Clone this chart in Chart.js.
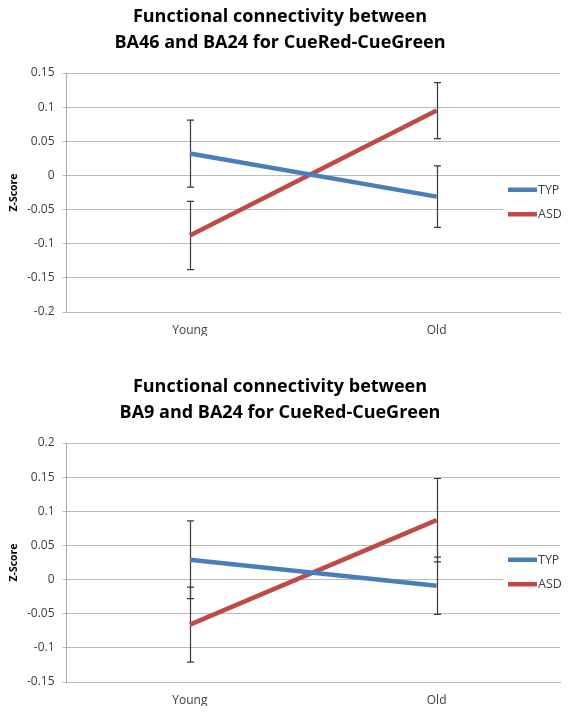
<!DOCTYPE html>
<html>
<head>
<meta charset="utf-8">
<script src="https://cdn.jsdelivr.net/npm/chart.js@4.4.1/dist/chart.umd.min.js"></script>
<style>
  body { margin: 0; background: #fff; }
  .panel { position: absolute; left: 0; }
</style>
</head>
<body>
<div class="panel" style="top:0"><canvas id="c1" width="570" height="350"></canvas></div>
<div class="panel" style="top:350px"><canvas id="c2" width="570" height="366"></canvas></div>
<script>
const groups = ['Young', 'Old'];
const seriesNames = ['TYP', 'ASD'];
const seriesColors = ['#4a7ebb', '#be4b48'];

// BA46 - BA24
const ba46Typ = [0.032, -0.031];
const ba46TypErr = [0.049, 0.045];
const ba46Asd = [-0.088, 0.095];
const ba46AsdErr = [0.050, 0.041];
const ba46Ticks = [-0.2, -0.15, -0.1, -0.05, 0, 0.05, 0.1, 0.15];

// BA9 - BA24
const ba9Typ = [0.029, -0.009];
const ba9TypErr = [0.057, 0.042];
const ba9Asd = [-0.066, 0.087];
const ba9AsdErr = [0.055, 0.061];
const ba9Ticks = [-0.15, -0.1, -0.05, 0, 0.05, 0.1, 0.15, 0.2];

const textGrey = '#404040';
const gridGrey = '#bcbcbc';
const fontFamily = "'Open Sans', sans-serif";

// error bars, drawn under the lines
const errorBars = {
  id: 'errorBars',
  beforeDatasetsDraw(chart) {
    const { ctx, scales: { x, y } } = chart;
    ctx.save();
    ctx.strokeStyle = '#3a3a3a';
    ctx.lineWidth = 1.2;
    chart.data.datasets.forEach(ds => {
      ds.data.forEach((v, i) => {
        const e = ds.errors[i];
        const px = Math.round(x.getPixelForValue(i)) + 0.5;
        const top = y.getPixelForValue(v + e);
        const bot = y.getPixelForValue(v - e);
        ctx.beginPath();
        ctx.moveTo(px, top); ctx.lineTo(px, bot);
        ctx.moveTo(px - 3.5, top); ctx.lineTo(px + 3.5, top);
        ctx.moveTo(px - 3.5, bot); ctx.lineTo(px + 3.5, bot);
        ctx.stroke();
      });
    });
    ctx.restore();
  }
};

// excel-like legend sitting inside the plot area on the right
const sideLegend = {
  id: 'sideLegend',
  afterDatasetsDraw(chart) {
    const { ctx, chartArea } = chart;
    const items = chart.data.datasets;
    const gap = 24.5;
    const mid = (chartArea.top + chartArea.bottom) / 2 + 9.5;
    const y0 = mid - gap * (items.length - 1) / 2;
    const left = chartArea.right - 57;
    ctx.save();
    ctx.fillStyle = '#fff';
    ctx.fillRect(left, y0 - 12, chart.width - left, gap * (items.length - 1) + 24);
    ctx.font = `12.5px ${fontFamily}`;
    ctx.textBaseline = 'middle';
    items.forEach((ds, i) => {
      const yy = y0 + i * gap;
      ctx.strokeStyle = ds.borderColor;
      ctx.lineWidth = 4.5;
      ctx.beginPath();
      ctx.moveTo(left + 5, yy);
      ctx.lineTo(left + 34, yy);
      ctx.stroke();
      ctx.fillStyle = textGrey;
      ctx.fillText(ds.label, left + 35, yy + 0.5);
    });
    ctx.restore();
  }
};

function makeChart(id, titleLines, typ, typErr, asd, asdErr, ticks, titleTop, padBottom) {
  const ctx = document.getElementById(id).getContext('2d');
  return new Chart(ctx, {
    type: 'line',
    data: {
      labels: groups,
      datasets: [
        { label: seriesNames[0], data: typ, errors: typErr, borderColor: seriesColors[0] },
        { label: seriesNames[1], data: asd, errors: asdErr, borderColor: seriesColors[1] }
      ].map(d => Object.assign(d, { borderWidth: 4.5, pointRadius: 0, tension: 0, fill: false }))
    },
    options: {
      responsive: false,
      animation: false,
      layout: { padding: { left: 0, right: 10, top: 0, bottom: padBottom } },
      plugins: {
        legend: { display: false },
        tooltip: { enabled: false },
        title: {
          display: true,
          text: titleLines,
          color: '#000',
          font: { family: fontFamily, size: 18, weight: 'bold', lineHeight: 26 / 18 },
          padding: { top: titleTop, bottom: 17 }
        }
      },
      scales: {
        x: {
          offset: true,
          afterFit: s => { s.height = 24; },
          grid: { display: false, drawTicks: false },
          border: { color: gridGrey },
          ticks: { color: textGrey, padding: 11, font: { family: fontFamily, size: 12 } }
        },
        y: {
          min: Math.min(...ticks),
          max: Math.max(...ticks),
          afterBuildTicks: s => { s.ticks = ticks.map(v => ({ value: v })); },
          afterFit: s => { s.width = 66.5; },
          grid: { color: gridGrey, tickLength: 4 },
          border: { color: '#a8a8a8' },
          ticks: {
            color: textGrey,
            padding: 8,
            font: { family: fontFamily, size: 12 },
            callback: v => String(+(+v).toFixed(2))
          },
          title: {
            display: true,
            text: 'Z-Score',
            color: '#000',
            font: { family: fontFamily, size: 10.5, weight: 'bold' },
            padding: { top: 8, bottom: 0 }
          }
        }
      }
    },
    plugins: [errorBars, sideLegend]
  });
}

makeChart('c1', ['Functional connectivity between', 'BA46 and BA24 for CueRed-CueGreen'],
  ba46Typ, ba46TypErr, ba46Asd, ba46AsdErr, ba46Ticks, 4, 14);
makeChart('c2', ['Functional connectivity between', 'BA9 and BA24 for CueRed-CueGreen'],
  ba9Typ, ba9TypErr, ba9Asd, ba9AsdErr, ba9Ticks, 24, 10);
</script>
</body>
</html>
